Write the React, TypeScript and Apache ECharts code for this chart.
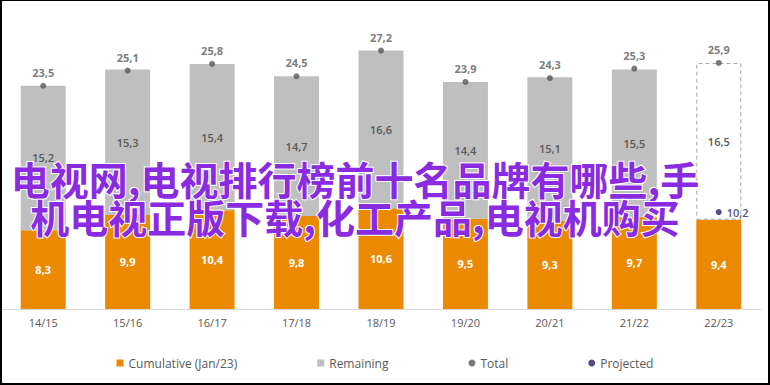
import React, { useEffect, useRef } from "react";
import * as echarts from "echarts";

const categories = ["14/15", "15/16", "16/17", "17/18", "18/19", "19/20", "20/21", "21/22", "22/23"];
const cumulative = [8.3, 9.9, 10.4, 9.8, 10.6, 9.5, 9.3, 9.7, 9.4];
const remaining = [15.2, 15.3, 15.4, 14.7, 16.6, 14.4, 15.1, 15.5, 16.5];
const totals = [23.5, 25.1, 25.8, 24.5, 27.2, 23.9, 24.3, 25.3, 25.9];
const projected = [null, null, null, null, null, null, null, null, 10.2];
const overlayText = "电视网,电视排行榜前十名品牌有哪些,手\n机电视正版下载,化工产品,电视机购买";

const fmt = (v: number) => v.toFixed(1).replace(".", ",");
const FONT = "'Open Sans', sans-serif";

export default function App() {
  const ref = useRef<HTMLDivElement>(null);
  useEffect(() => {
    if (!ref.current) return;
    const chart = echarts.init(ref.current, null, { renderer: "svg" });
    const lastIdx = categories.length - 1;
    chart.setOption({
      animation: false,
      textStyle: { fontFamily: FONT },
      grid: { left: 1, right: 9, top: 24, bottom: 76, containLabel: false },
      xAxis: {
        type: "category",
        data: categories,
        axisLine: { lineStyle: { color: "#D9D9D9", width: 1 } },
        axisTick: { show: false },
        axisLabel: { color: "#595959", fontSize: 11, margin: 8, fontFamily: FONT },
      },
      yAxis: { type: "value", min: 0, max: 30, show: false, splitLine: { show: false } },
      legend: {
        bottom: 11,
        left: "center",
        itemWidth: 7,
        itemHeight: 7,
        itemGap: 80,
        textStyle: { color: "#595959", fontSize: 12, fontFamily: FONT },
        data: [
          { name: "Cumulative (Jan/23)", icon: "rect" },
          { name: "Remaining", icon: "rect" },
          { name: "Total", icon: "circle" },
          { name: "Projected", icon: "circle" },
        ],
      },
      series: [
        {
          name: "Cumulative (Jan/23)",
          type: "bar",
          stack: "a",
          barWidth: 45,
          data: cumulative,
          itemStyle: { color: "#EB8A00" },
          label: {
            show: true,
            position: "inside",
            color: "#fff",
            fontWeight: "bold",
            fontSize: 11,
            formatter: (p: any) => fmt(p.value),
          },
        },
        {
          name: "Remaining",
          type: "bar",
          stack: "a",
          barWidth: 45,
          data: remaining.map((v, i) =>
            i === lastIdx
              ? {
                  value: v,
                  itemStyle: {
                    color: "rgba(255,255,255,0)",
                    borderColor: "#A6A6A6",
                    borderType: [4, 3],
                    borderWidth: 1,
                  },
                }
              : v
          ),
          itemStyle: { color: "#BFBFBF" },
          label: {
            show: true,
            position: "inside",
            color: "#595959",
            fontWeight: 600,
            fontSize: 11,
            formatter: (p: any) => fmt(p.value),
          },
        },
        {
          name: "Total",
          type: "scatter",
          data: totals,
          symbolSize: 6,
          itemStyle: { color: "#595959" },
          z: 5,
          label: {
            show: true,
            position: "top",
            distance: 5,
            color: "#595959",
            fontWeight: "bold",
            fontSize: 11,
            formatter: (p: any) => fmt(p.value),
          },
        },
        {
          name: "Projected",
          type: "scatter",
          data: projected,
          symbolSize: 6,
          itemStyle: { color: "#2B1B5E" },
          z: 5,
          label: {
            show: true,
            position: "right",
            distance: 5,
            color: "#2B1B5E",
            fontWeight: 600,
            fontSize: 11,
            formatter: (p: any) => (p.value == null ? "" : fmt(p.value)),
          },
        },
      ],
      graphic: [
        {
          type: "text",
          x: 355,
          y: 197,
          z: 100,
          style: {
            text: overlayText,
            align: "center",
            verticalAlign: "middle",
            fontSize: 39,
            lineHeight: 38,
            fontFamily: "'Noto Sans CJK SC', sans-serif",
            fontWeight: "bold",
            fill: "#8A2BE2",
            stroke: "#FFFFFF",
            lineWidth: 2,
          },
        },
      ],
    });
    return () => chart.dispose();
  }, []);
  return (
    <div style={{ position: "fixed", left: 0, top: 0, width: 770, height: 385, background: "#fff" }}>
      <div ref={ref} style={{ position: "absolute", left: 0, top: 0, width: 770, height: 385 }} />
      <div
        style={{
          position: "absolute",
          left: 0,
          top: 0,
          width: 770,
          height: 385,
          boxSizing: "border-box",
          borderTop: "1px solid #000",
          borderLeft: "2px solid #000",
          borderRight: "2px solid #000",
          borderBottom: "2px solid #000",
          pointerEvents: "none",
        }}
      />
    </div>
  );
}
